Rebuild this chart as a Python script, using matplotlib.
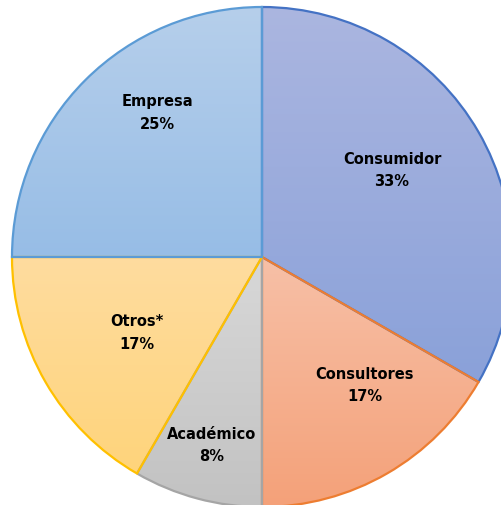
import numpy as np
import matplotlib
matplotlib.use("Agg")
import matplotlib.pyplot as plt
from matplotlib.colors import LinearSegmentedColormap

# data: counts per category
categories = ["Consumidor", "Consultores", "Académico", "Otros*", "Empresa"]
counts = [4, 2, 1, 2, 3]
pct_labels = ["33%", "17%", "8%", "17%", "25%"]

# colours: gradient top / bottom and outline for each slice
top_cols = ["#abb6e0", "#f7c0a7", "#d8d8d8", "#fedc9f", "#b6cfeb"]
bot_cols = ["#8aa1d9", "#f4a179", "#c2c2c2", "#ffd47b", "#97bde6"]
edge_cols = ["#4472c4", "#ed7d31", "#a5a5a5", "#ffc000", "#5b9bd5"]

# label positions (x, y) as fraction of the radius from the centre
label_pos = [(0.52, 0.35), (0.41, -0.51), (-0.20, -0.75), (-0.50, -0.30), (-0.42, 0.58)]

R = 250
fig = plt.figure(figsize=(5.02, 5.06), dpi=100)
ax = fig.add_axes([0, 0, 1, 1])

wedges, _ = ax.pie(counts, radius=R, startangle=90, counterclock=False,
                   wedgeprops=dict(linewidth=1.6), frame=True)
ax.set_xlim(-262, 240)
ax.set_ylim(-248, 258)
ax.set_aspect("equal")
ax.axis("off")

grad = np.linspace(0, 1, 256).reshape(-1, 1)
for w, tc, bc, ec in zip(wedges, top_cols, bot_cols, edge_cols):
    w.set_facecolor("none")
    w.set_edgecolor(ec)
    w.set_zorder(3)
    # vertical gradient over the wedge's bounding box, clipped to the wedge
    ext = w.get_path().get_extents(w.get_patch_transform())
    cmap = LinearSegmentedColormap.from_list("g", [tc, bc])
    im = ax.imshow(grad, cmap=cmap, aspect="auto", origin="upper",
                   extent=[ext.x0, ext.x1, ext.y0, ext.y1], zorder=2,
                   interpolation="bilinear")
    im.set_clip_path(w)

for (fx, fy), cat, p in zip(label_pos, categories, pct_labels):
    ax.text(fx * R, fy * R, cat + "\n" + p, ha="center", va="center",
            fontsize=10.5, fontweight="semibold", color="black",
            linespacing=1.6, zorder=5)

fig.savefig("out.png", dpi=100)
